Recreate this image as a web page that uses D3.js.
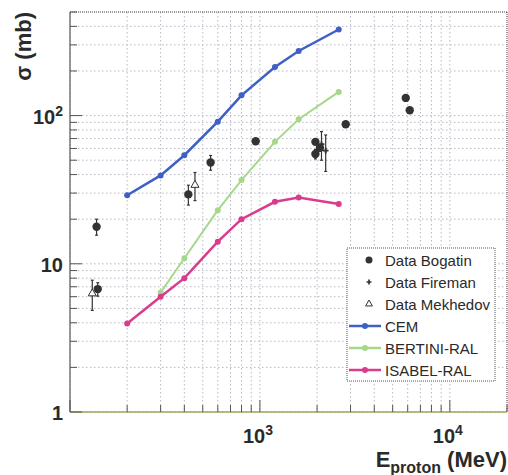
<!DOCTYPE html>
<html>
<head>
<meta charset="utf-8">
<script src="https://cdn.jsdelivr.net/npm/d3@7"></script>
<style>
  body { margin: 0; background: #fff; }
  text { font-family: "Liberation Sans", Arial, Helvetica, sans-serif; font-weight: bold; fill: #2a2a2a; }
</style>
</head>
<body>
<script>
// model energies (MeV) and cross sections (mb)
var modelEnergy = [200, 300, 400, 600, 800, 1200, 1600, 2600];
var cemValues = [29, 39.5, 54, 91, 137, 213, 273, 381];
var bertiniEnergy = [300, 400, 600, 800, 1200, 1600, 2600];
var bertiniValues = [6.4, 10.9, 23, 36.7, 66.5, 94.6, 144.5];
var isabelValues = [3.96, 6.0, 8.0, 14.1, 20, 26.2, 28, 25.3];

// measured data
var bogatinEnergy = [138, 140, 420, 550, 950, 1960, 1960, 2070, 2830, 5860, 6150];
var bogatinValues = [17.8, 6.75, 29.4, 48.3, 67.2, 66.5, 55, 60.6, 87.5, 131.6, 108.7];
var bogatinErrors = [2.2, 0.7, 4.5, 5.5, 0, 0, 4, 3, 0, 0, 0];
var firemanEnergy = [2110, 2220];
var firemanValues = [64, 58];
var firemanErrors = [14, 16];
var mekhedovEnergy = [131, 455];
var mekhedovValues = [6.3, 34];
var mekhedovErrors = [1.45, 7.3];

var xLabelValues = [1000, 10000];
var xLabelExp = ["3", "4"];
var yLabelValues = [1, 10, 100];
var yLabelBase = ["1", "10", "10"];
var yLabelExp = ["", "", "2"];

var legendNames = ["Data Bogatin", "Data Fireman", "Data Mekhedov", "CEM", "BERTINI-RAL", "ISABEL-RAL"];

var W = 508, H = 475;
var margin = { left: 70, top: 12, right: 1, bottom: 63 };
var w = W - margin.left - margin.right;
var h = H - margin.top - margin.bottom;

var blue = "#3d5fc6", green = "#a6d88c", pink = "#d93c8c", dark = "#333";

var svg = d3.select("body").append("svg")
    .attr("width", W)
    .attr("height", H);

var g = svg.append("g")
    .attr("transform", "translate(" + margin.left + "," + margin.top + ")");

var x = d3.scaleLog().domain([100, 20000]).range([0, w]);
var y = d3.scaleLog().domain([1, 500]).range([h, 0]);

var xTicks = x.ticks();
var yTicks = y.ticks();
function isMajor(v) { return Math.abs(Math.log10(v) - Math.round(Math.log10(v))) < 1e-9; }

// grid
g.selectAll(".gx").data(xTicks).enter().append("line")
    .attr("x1", function(d) { return x(d); })
    .attr("x2", function(d) { return x(d); })
    .attr("y1", 0).attr("y2", h)
    .attr("stroke", "#b8b8c4").attr("stroke-width", 1)
    .attr("stroke-dasharray", "1.5,2.5");
g.selectAll(".gy").data(yTicks).enter().append("line")
    .attr("y1", function(d) { return y(d); })
    .attr("y2", function(d) { return y(d); })
    .attr("x1", 0).attr("x2", w)
    .attr("stroke", "#b8b8c4").attr("stroke-width", 1)
    .attr("stroke-dasharray", "1.5,2.5");

// frame
g.append("line").attr("x1", 0).attr("x2", w).attr("y1", 0).attr("y2", 0)
    .attr("stroke", "#555").attr("stroke-dasharray", "1,1");
g.append("line").attr("x1", w).attr("x2", w).attr("y1", 0).attr("y2", h)
    .attr("stroke", "#555").attr("stroke-dasharray", "1,1");
g.append("line").attr("x1", 0).attr("x2", 0).attr("y1", 0).attr("y2", h)
    .attr("stroke", "#777").attr("stroke-width", 1.5);
g.append("line").attr("x1", 0).attr("x2", w).attr("y1", h).attr("y2", h)
    .attr("stroke", "#9ea65c").attr("stroke-width", 1.5);

// ticks
g.selectAll(".tx").data(xTicks).enter().append("line")
    .attr("x1", function(d) { return x(d); })
    .attr("x2", function(d) { return x(d); })
    .attr("y1", h)
    .attr("y2", function(d) { return h - (isMajor(d) ? 12 : 7); })
    .attr("stroke", "#555").attr("stroke-width", 1);
g.selectAll(".ty").data(yTicks).enter().append("line")
    .attr("y1", function(d) { return y(d); })
    .attr("y2", function(d) { return y(d); })
    .attr("x1", 0)
    .attr("x2", function(d) { return isMajor(d) ? 12 : 7; })
    .attr("stroke", "#555").attr("stroke-width", 1);

// tick labels
var xl = g.selectAll(".xl").data(xLabelValues).enter().append("text")
    .attr("x", function(d) { return x(d) - 2; })
    .attr("y", h + 31)
    .attr("text-anchor", "middle")
    .attr("font-size", 20);
xl.append("tspan").text("10");
xl.append("tspan").attr("font-size", 14).attr("dy", -8)
    .text(function(d, i) { return xLabelExp[i]; });

var yl = g.selectAll(".yl").data(yLabelValues).enter().append("text")
    .attr("x", -7)
    .attr("y", function(d) { return y(d) + 8; })
    .attr("text-anchor", "end")
    .attr("font-size", 20);
yl.append("tspan").text(function(d, i) { return yLabelBase[i]; });
yl.append("tspan").attr("font-size", 14).attr("dy", -8)
    .text(function(d, i) { return yLabelExp[i]; });

// axis titles
var yt = svg.append("text")
    .attr("transform", "translate(31," + margin.top + ") rotate(-90)")
    .attr("text-anchor", "end")
    .attr("font-size", 22);
yt.append("tspan").text("\u03c3 (mb)");

var xt = svg.append("text")
    .attr("x", W - 1)
    .attr("y", H - 8)
    .attr("text-anchor", "end")
    .attr("font-size", 22);
xt.append("tspan").text("E");
xt.append("tspan").attr("font-size", 16).attr("dy", 6).text("proton");
xt.append("tspan").attr("dy", -6).text(" (MeV)");

// model curves
var line = d3.line()
    .x(function(d) { return x(d[0]); })
    .y(function(d) { return y(d[1]); });

var models = [
  { col: blue, pts: d3.zip(modelEnergy, cemValues) },
  { col: green, pts: d3.zip(bertiniEnergy, bertiniValues) },
  { col: pink, pts: d3.zip(modelEnergy, isabelValues) }
];

models.forEach(function(m) {
  g.append("path")
      .attr("d", line(m.pts))
      .attr("fill", "none")
      .attr("stroke", m.col)
      .attr("stroke-width", m.col === green ? 2 : 2.5);
  g.selectAll(null).data(m.pts).enter().append("circle")
      .attr("cx", function(d) { return x(d[0]); })
      .attr("cy", function(d) { return y(d[1]); })
      .attr("r", 3)
      .attr("fill", m.col);
});

// error bars
function errorBars(E, V, err) {
  var pts = d3.range(E.length).filter(function(i) { return err[i] > 0; });
  var eg = g.append("g").attr("stroke", dark).attr("stroke-width", 1.2);
  eg.selectAll(null).data(pts).enter().append("line")
      .attr("x1", function(i) { return x(E[i]); })
      .attr("x2", function(i) { return x(E[i]); })
      .attr("y1", function(i) { return y(V[i] + err[i]); })
      .attr("y2", function(i) { return y(V[i] - err[i]); });
  [1, -1].forEach(function(s) {
    eg.selectAll(null).data(pts).enter().append("line")
        .attr("x1", function(i) { return x(E[i]) - 1.5; })
        .attr("x2", function(i) { return x(E[i]) + 1.5; })
        .attr("y1", function(i) { return y(V[i] + s * err[i]); })
        .attr("y2", function(i) { return y(V[i] + s * err[i]); });
  });
}

errorBars(bogatinEnergy, bogatinValues, bogatinErrors);
errorBars(firemanEnergy, firemanValues, firemanErrors);
errorBars(mekhedovEnergy, mekhedovValues, mekhedovErrors);

g.selectAll(".bog").data(bogatinEnergy).enter().append("circle")
    .attr("cx", function(d) { return x(d); })
    .attr("cy", function(d, i) { return y(bogatinValues[i]); })
    .attr("r", 4.2)
    .attr("fill", dark);

var plus = d3.symbol().type(d3.symbolCross).size(18);
g.selectAll(".fir").data(firemanEnergy).enter().append("path")
    .attr("d", plus)
    .attr("transform", function(d, i) { return "translate(" + x(d) + "," + y(firemanValues[i]) + ")"; })
    .attr("fill", dark);

var tri = d3.symbol().type(d3.symbolTriangle).size(28);
g.selectAll(".mek").data(mekhedovEnergy).enter().append("path")
    .attr("d", tri)
    .attr("transform", function(d, i) { return "translate(" + x(d) + "," + y(mekhedovValues[i]) + ")"; })
    .attr("fill", "#fff")
    .attr("stroke", dark)
    .attr("stroke-width", 1);

// legend
var lg = svg.append("g").attr("transform", "translate(347,248)");
lg.append("rect")
    .attr("width", 148).attr("height", 133)
    .attr("fill", "#fff")
    .attr("stroke", "#555")
    .attr("stroke-dasharray", "1,1");

var rows = lg.selectAll(".row").data(legendNames).enter().append("g")
    .attr("transform", function(d, i) { return "translate(0," + (12 + i * 22) + ")"; });

rows.append("text")
    .attr("x", 38)
    .attr("y", 5.5)
    .attr("font-size", 15)
    .style("font-weight", "normal")
    .text(function(d) { return d; });

var legendCols = [null, null, null, blue, green, pink];
rows.filter(function(d, i) { return legendCols[i]; }).each(function(d, i) {
  var c = legendCols[i + 3];
  d3.select(this).append("line")
      .attr("x1", 2).attr("x2", 34).attr("y1", 0).attr("y2", 0)
      .attr("stroke", c).attr("stroke-width", 2.5);
  d3.select(this).append("circle")
      .attr("cx", 18).attr("cy", 0).attr("r", 3).attr("fill", c);
});

rows.filter(function(d, i) { return i === 0; }).append("circle")
    .attr("cx", 22).attr("cy", 0).attr("r", 3.5).attr("fill", dark);
rows.filter(function(d, i) { return i === 1; }).append("path")
    .attr("d", d3.symbol().type(d3.symbolCross).size(14))
    .attr("transform", "translate(22,0)").attr("fill", dark);
rows.filter(function(d, i) { return i === 2; }).append("path")
    .attr("d", d3.symbol().type(d3.symbolTriangle).size(20))
    .attr("transform", "translate(22,0)")
    .attr("fill", "#fff").attr("stroke", dark);
</script>
</body>
</html>
